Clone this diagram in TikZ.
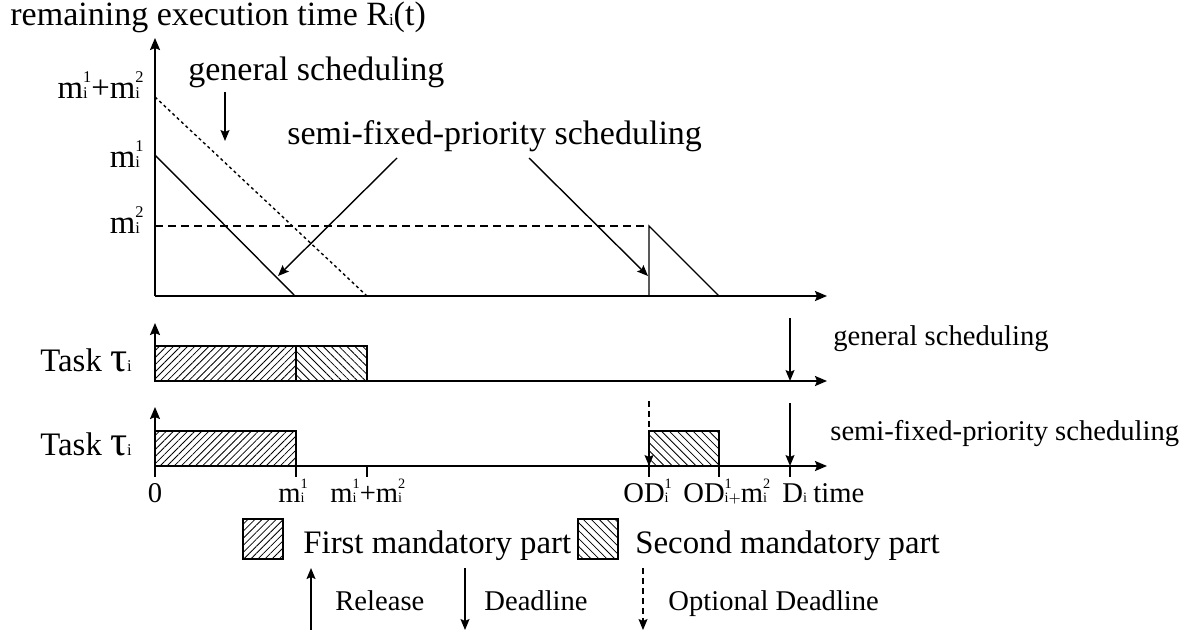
\documentclass[tikz,border=0pt]{standalone}
\usepackage{fontspec}
\setmainfont{Liberation Serif}
\usetikzlibrary{arrows.meta,patterns.meta}
% small superscript stacked over a small subscript resting on the baseline
\newcommand{\ix}[2]{\ooalign{\raisebox{0.46em}{$\scriptscriptstyle\mathrm{#1}$}\cr$\scriptscriptstyle\mathrm{#2}$\cr}}
\newcommand{\sbi}{$\scriptscriptstyle\mathrm{i}$}
\newcommand{\tauglyph}{\scalebox{1.3}{τ}}
\begin{document}
\begin{tikzpicture}[x=0.5pt,y=-0.5pt,
  ax/.style={line width=1pt,-{Stealth[length=6pt,width=5pt,inset=1pt]}},
  ln/.style={line width=0.7pt},
  arr/.style={line width=0.7pt,-{Stealth[length=5.5pt,width=4.5pt,inset=1pt]}},
  dotline/.style={dash pattern=on 1.5pt off 1.5pt},
  dashline/.style={dash pattern=on 4pt off 2.5pt},
  optline/.style={dash pattern=on 3pt off 2pt},
  big/.style={font=\fontsize{17}{20}\selectfont,inner sep=0pt},
  mid/.style={font=\fontsize{16.4}{19}\selectfont,inner sep=0pt},
  small/.style={font=\fontsize{14.3}{17}\selectfont,inner sep=0pt},
  first/.style={draw,line width=0.8pt,pattern={Lines[angle=45,distance=2.5pt,line width=0.4pt]}},
  second/.style={draw,line width=0.8pt,pattern={Lines[angle=-45,distance=2.8pt,line width=0.4pt]}},
  tickmark/.style={line width=0.8pt}]
\useasboundingbox (0,0) rectangle (1186,633);

% ---------- remaining execution time ----------
\node[big,anchor=base west] (title) at (10,25) {remaining execution time R\sbi(t)};
\coordinate (o1) at (155,296);
\coordinate (y1) at (155,38);
\coordinate (x1) at (827,296);

\node[mid,anchor=base east] (lmm) at (144,98) {m\ix{1}{i}+m\ix{2}{i}};
\node[mid,anchor=base east] (lm1) at (144,167) {m\ix{1}{i}};
\node[mid,anchor=base east] (lm2) at (144,233) {m\ix{2}{i}};

\coordinate (a1) at (155,155); \coordinate (a2) at (295,296);
\coordinate (b1) at (155,97);  \coordinate (b2) at (367,296);
\coordinate (c1) at (155,226); \coordinate (c2) at (649,226);
\coordinate (c3) at (649,296); \coordinate (c4) at (719,296);
\draw[ln] (a1) -- (a2);
\draw[ln,dotline] (b1) -- (b2);
\draw[ln,dashline] (c1) -- (c2);
\draw[ln] (c3) -- (c2) -- (c4);
\draw[ax] (o1) -- (y1);
\draw[ax] (o1) -- (x1);

\node[big,anchor=base west] (gs) at (188,80) {general scheduling};
\coordinate (gsA) at (225,92); \coordinate (gsB) at (225,141);
\draw[arr] (gsA) -- (gsB);
\node[big,anchor=base west] (sf) at (287,144) {semi-fixed-priority scheduling};
\coordinate (sfA) at (397,158); \coordinate (sfB) at (278,276);
\coordinate (sfC) at (529,158); \coordinate (sfD) at (648,276);
\draw[arr] (sfA) -- (sfB);
\draw[arr] (sfC) -- (sfD);

% ---------- general scheduling timeline ----------
\node[mid,anchor=base west] (task1) at (40,371) {Task\hspace{0.25em}\tauglyph\sbi};
\draw[first] (155,346) rectangle (296,381);
\draw[second] (296,346) rectangle (367,381);
\coordinate (o2) at (155,381);
\coordinate (y2) at (155,323);
\coordinate (x2) at (827,381);
\draw[ax] (o2) -- (y2);
\draw[ax] (o2) -- (x2);
\coordinate (d2a) at (790,318); \coordinate (d2b) at (790,381);
\draw[arr] (d2a) -- (d2b);
\node[small,anchor=base west] (gs2) at (833,345) {general scheduling};

% ---------- semi-fixed-priority scheduling timeline ----------
\node[mid,anchor=base west] (task2) at (40,455) {Task\hspace{0.25em}\tauglyph\sbi};
\draw[first] (155,431) rectangle (296,466);
\draw[second] (649,431) rectangle (719,466);
\coordinate (o3) at (155,466);
\coordinate (y3) at (155,407);
\coordinate (x3) at (827,466);
\draw[ax] (o3) -- (y3);
\draw[ax] (o3) -- (x3);
\coordinate (od3a) at (649,401); \coordinate (od3b) at (649,466);
\draw[arr,optline] (od3a) -- (od3b);
\coordinate (d3a) at (790,403); \coordinate (d3b) at (790,466);
\draw[arr] (d3a) -- (d3b);
\node[small,anchor=base west] (sf2) at (830,440) {semi-fixed-priority scheduling};

% ticks and time labels
\foreach \t in {155,296,367,649,719,790}
  \draw[tickmark] (\t,466) -- (\t,477);
\node[small,anchor=base] (t0) at (155,502) {0};
\node[small,anchor=base west] (tm1) at (278,502) {m\ix{1}{i}};
\node[small,anchor=base west] (tm12) at (330,502) {m\ix{1}{i}+m\ix{2}{i}};
\node[small,anchor=base west] (tod) at (623,502) {OD\ix{1}{i}};
\node[small,anchor=base west] (todm) at (683,502) {OD\ix{1}{i+}m\ix{2}{i}};
\node[small,anchor=base west] (tD) at (782,502) {D\sbi};
\node[small,anchor=base west] (ttime) at (813,502) {time};

% ---------- legend ----------
\draw[first] (243,519) rectangle (283,559);
\node[mid,anchor=base west] (fm) at (303,553) {First mandatory part};
\draw[second] (578,519) rectangle (618,559);
\node[mid,anchor=base west] (sm) at (635,553) {Second mandatory part};

\coordinate (rA) at (311,630); \coordinate (rB) at (311,568);
\draw[arr] (rA) -- (rB);
\node[small,anchor=base west] (rel) at (335,610) {Release};
\coordinate (dA) at (465,568); \coordinate (dB) at (465,630);
\draw[arr] (dA) -- (dB);
\node[small,anchor=base west] (dl) at (484,610) {Deadline};
\coordinate (oA) at (643,568); \coordinate (oB) at (643,630);
\draw[arr,optline] (oA) -- (oB);
\node[small,anchor=base west] (odl) at (668,610) {Optional Deadline};
\end{tikzpicture}
\end{document}
